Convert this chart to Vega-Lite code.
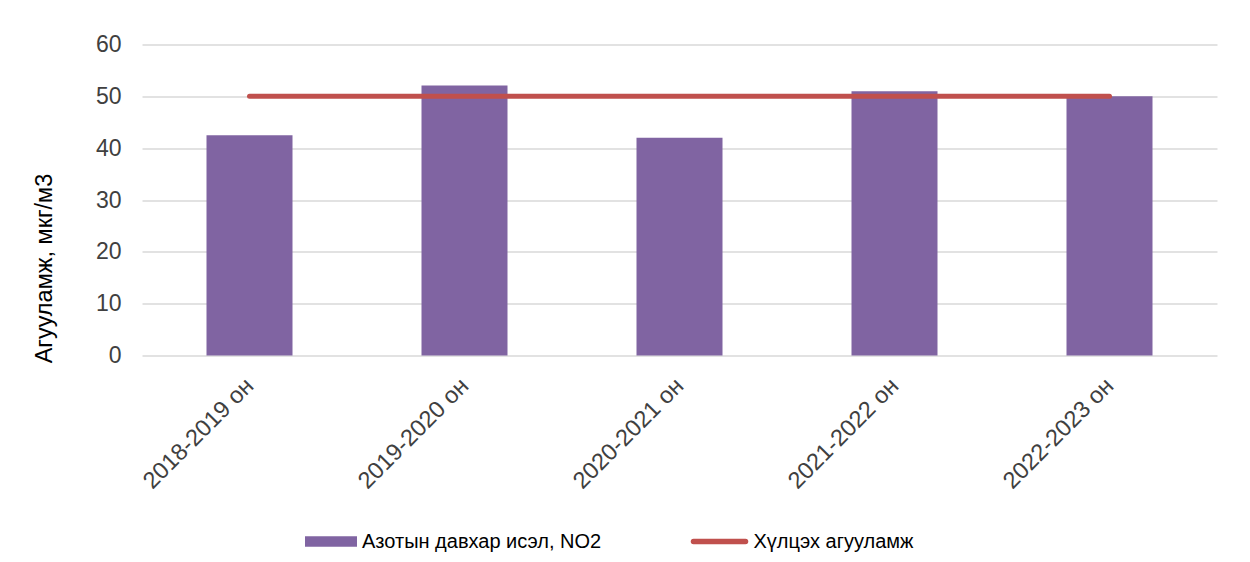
{
  "$schema": "https://vega.github.io/schema/vega-lite/v6.json",
  "autosize": {"type": "none"},
  "width": 1075,
  "height": 311,
  "padding": {"left": 142, "top": 44.5, "right": 33, "bottom": 206.5},
  "background": "white",
  "config": {
    "font": "Liberation Sans",
    "view": {"stroke": null},
    "axis": {"labelFont": "Liberation Sans", "titleFont": "Liberation Sans"},
    "legend": {"labelFont": "Liberation Sans", "labelLimit": 0}
  },
  "data": {
    "values": [
      {"year": "2018-2019 он", "no2": 42.5, "limit": 50},
      {"year": "2019-2020 он", "no2": 52.1, "limit": 50},
      {"year": "2020-2021 он", "no2": 42.0, "limit": 50},
      {"year": "2021-2022 он", "no2": 51.0, "limit": 50},
      {"year": "2022-2023 он", "no2": 50.0, "limit": 50}
    ]
  },
  "layer": [
    {
      "mark": {"type": "bar"},
      "encoding": {
        "x": {
          "field": "year",
          "type": "nominal",
          "sort": null,
          "scale": {"paddingInner": 0.6, "paddingOuter": 0.3},
          "axis": {
            "title": null,
            "labelAngle": -45,
            "labelFontSize": 23.5,
            "labelColor": "#404040",
            "labelPadding": 18,
            "labelOffset": -8,
            "labelLimit": 0,
            "domain": false,
            "ticks": false,
            "grid": false
          }
        },
        "y": {
          "field": "no2",
          "type": "quantitative",
          "scale": {"domain": [0, 60], "nice": false},
          "axis": {
            "title": "Агууламж, мкг/м3",
            "titleFontSize": 23.5,
            "titleFontWeight": "normal",
            "titleColor": "#000000",
            "titleAngle": -90,
            "titleAlign": "center",
            "titleBaseline": "middle",
            "titleX": -98,
            "titleY": 223.5,
            "values": [0, 10, 20, 30, 40, 50, 60],
            "labelFontSize": 23,
            "labelColor": "#404040",
            "labelPadding": 21,
            "domain": false,
            "ticks": false,
            "grid": true,
            "gridColor": "#d9d9d9",
            "gridWidth": 1.5
          }
        },
        "fill": {
          "datum": "Азотын давхар исэл, NO2",
          "scale": {"range": ["#8064A2"]},
          "legend": {
            "title": null,
            "orient": "none",
            "legendX": 163,
            "legendY": 471,
            "symbolType": "M-1,-0.2H1V0.2H-1Z",
            "symbolSize": 2704,
            "symbolStrokeWidth": 0,
            "labelFontSize": 20,
            "labelColor": "#000000",
            "labelOffset": 5
          }
        }
      }
    },
    {
      "mark": {"type": "line", "strokeWidth": 5, "strokeCap": "round"},
      "encoding": {
        "x": {"field": "year", "type": "nominal", "sort": null},
        "y": {"field": "limit", "type": "quantitative"},
        "stroke": {
          "datum": "Хүлцэх агууламж",
          "scale": {"range": ["#C0504D"]},
          "legend": {
            "title": null,
            "orient": "none",
            "legendX": 548.5,
            "legendY": 468,
            "symbolType": "stroke",
            "symbolSize": 2704,
            "symbolStrokeWidth": 5.5,
            "labelFontSize": 20,
            "labelColor": "#000000",
            "labelOffset": 5,
            "encode": {"symbols": {"update": {"strokeCap": {"value": "round"}}}}
          }
        }
      }
    }
  ]
}
